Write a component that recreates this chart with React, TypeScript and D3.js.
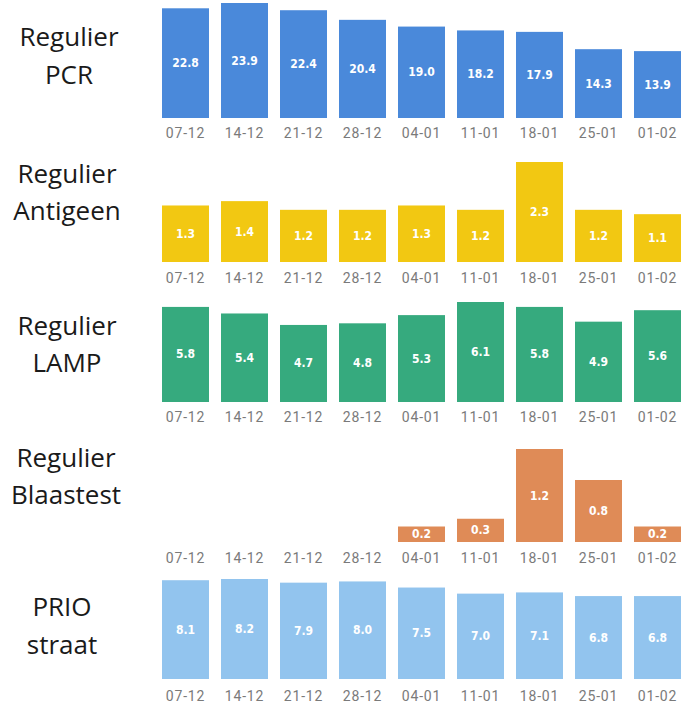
import React from "react";
import * as d3 from "d3";

const dates = ["07-12", "14-12", "21-12", "28-12", "04-01", "11-01", "18-01", "25-01", "01-02"];
const pcr = [22.8, 23.9, 22.4, 20.4, 19.0, 18.2, 17.9, 14.3, 13.9];
const antigeen = [1.3, 1.4, 1.2, 1.2, 1.3, 1.2, 2.3, 1.2, 1.1];
const lamp = [5.8, 5.4, 4.7, 4.8, 5.3, 6.1, 5.8, 4.9, 5.6];
const blaastest: (number | null)[] = [null, null, null, null, 0.2, 0.3, 1.2, 0.8, 0.2];
const prio = [8.1, 8.2, 7.9, 8.0, 7.5, 7.0, 7.1, 6.8, 6.8];
const rowTitles = [
  ["Regulier", "PCR"],
  ["Regulier", "Antigeen"],
  ["Regulier", "LAMP"],
  ["Regulier", "Blaastest"],
  ["PRIO", "straat"],
];

const W = 685;
const H = 705;

const rows = [
  { values: pcr, color: "#4a89da", bottom: 118, top: 3, labelY: 133, titleX: 69, b1: 46, b2: 84 },
  { values: antigeen, color: "#f2c812", bottom: 262, top: 162, labelY: 278, titleX: 67, b1: 183, b2: 220 },
  { values: lamp, color: "#36aa7e", bottom: 402, top: 302, labelY: 417, titleX: 67, b1: 335, b2: 372 },
  { values: blaastest, color: "#df8b57", bottom: 542, top: 449, labelY: 558, titleX: 66, b1: 467, b2: 504 },
  { values: prio, color: "#92c4ee", bottom: 679, top: 579, labelY: 696, titleX: 62, b1: 616, b2: 654 },
];

export default function App() {
  const x = d3
    .scaleBand<string>()
    .domain(dates)
    .range([156, 687])
    .paddingInner(12 / 59)
    .paddingOuter(6 / 59);

  return (
    <svg
      width={W}
      height={H}
      style={{ position: "absolute", left: 0, top: 0, background: "#fff" }}
    >
      {rows.map((row, ri) => {
        const max = d3.max(row.values.filter((v) => v != null) as number[]) as number;
        const y = d3.scaleLinear().domain([0, max]).range([row.bottom, row.top]);
        return (
          <g key={ri}>
            <text
              x={row.titleX}
              y={row.b1}
              textAnchor="middle"
              fontFamily="'Open Sans', 'Noto Sans', sans-serif"
              fontSize={26}
              fill="#1a1a1a"
            >
              {rowTitles[ri][0]}
            </text>
            <text
              x={row.titleX}
              y={row.b2}
              textAnchor="middle"
              fontFamily="'Open Sans', 'Noto Sans', sans-serif"
              fontSize={26}
              fill="#1a1a1a"
            >
              {rowTitles[ri][1]}
            </text>
            {dates.map((d, i) => {
              const v = row.values[i];
              const bx = x(d) as number;
              return (
                <g key={d}>
                  {v != null && (
                    <>
                      <rect
                        x={bx}
                        y={y(v)}
                        width={x.bandwidth()}
                        height={row.bottom - y(v)}
                        fill={row.color}
                      />
                      <text
                        x={bx + x.bandwidth() / 2}
                        y={(y(v) + row.bottom) / 2}
                        textAnchor="middle"
                        dominantBaseline="central"
                        fontFamily="'DejaVu Sans Condensed', 'DejaVu Sans', sans-serif"
                        fontStretch="condensed"
                        fontWeight="bold"
                        fontSize={12}
                        fill="#ffffff"
                      >
                        {v.toFixed(1)}
                      </text>
                    </>
                  )}
                  <text
                    x={bx + x.bandwidth() / 2}
                    y={row.labelY}
                    textAnchor="middle"
                    dominantBaseline="central"
                    fontFamily="Roboto, 'DejaVu Sans', sans-serif"
                    fontSize={14}
                    letterSpacing={0.8}
                    fill="#7a7a7a"
                  >
                    {d}
                  </text>
                </g>
              );
            })}
          </g>
        );
      })}
    </svg>
  );
}
